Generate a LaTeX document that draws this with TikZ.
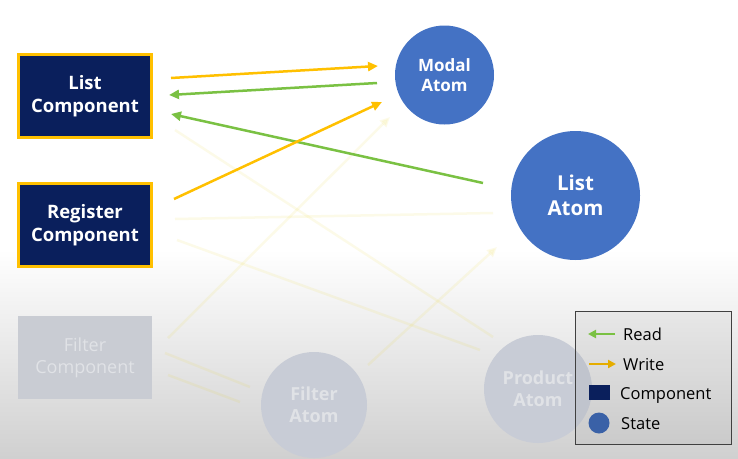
\documentclass[tikz,border=0pt]{standalone}
\usepackage{fontspec}
\setmainfont{Open Sans}
\usetikzlibrary{arrows.meta,calc}
\definecolor{navy}{HTML}{0A1F5C}
\definecolor{gold}{HTML}{FFC000}
\definecolor{ablue}{HTML}{4472C4}
\definecolor{rgreen}{HTML}{7AC143}
\definecolor{fadebox}{HTML}{C9CCD3}
\definecolor{fadecirc}{HTML}{C8CCD6}
\definecolor{fadetext}{HTML}{E0E2E6}
\definecolor{bgbot}{HTML}{D0D0D0}
\definecolor{legline}{HTML}{404040}
\definecolor{ghostcol}{HTML}{E8D000}
\tikzset{
  comp/.style={draw=gold, line width=3pt, fill=navy, text=white, align=center,
    minimum width=133pt, minimum height=83pt, inner sep=0pt,
    font=\bfseries\fontsize{18.5}{22.5}\selectfont},
  fadecomp/.style={fill=fadebox, text=fadetext, align=center,
    minimum width=134pt, minimum height=83pt, inner sep=0pt,
    font=\fontsize{18}{22}\selectfont},
  atom/.style={circle, fill=ablue, text=white, align=center, inner sep=0pt,
    font=\bfseries\fontsize{17}{20}\selectfont},
  fadeatom/.style={circle, fill=fadecirc, text=fadetext, align=center, inner sep=0pt,
    font=\bfseries\fontsize{18}{22}\selectfont},
  tip/.style={-{Triangle[length=10pt,width=9pt]}},
  writearrow/.style={tip, draw=gold, line width=2.5pt},
  readarrow/.style={tip, draw=rgreen, line width=2.5pt},
  ghost/.style={draw=ghostcol, line width=2.5pt, opacity=0.09},
  ghostarrow/.style={ghost, tip},
  legtext/.style={anchor=base west, inner sep=0pt, text=black, font=\fontsize{16.5}{20}\selectfont},
}
\begin{document}
\begin{tikzpicture}[x=1pt, y=-1pt]
\useasboundingbox (0,0) rectangle (738,458);
% background
\fill[white] (0,0) rectangle (738,250);
\shade[top color=white, bottom color=bgbot] (0,249.5) rectangle (738,458);

% ghost connectors
\coordinate (g1s) at (175,130); \coordinate (g1e) at (493,337);
\coordinate (g2s) at (175,219); \coordinate (g2e) at (493,213);
\coordinate (g3s) at (177,240); \coordinate (g3e) at (480,350);
\coordinate (g4s) at (168,338); \coordinate (g4e) at (390,117);
\coordinate (g5s) at (368,365); \coordinate (g5e) at (497,247);
\coordinate (g6s) at (165,353); \coordinate (g6e) at (250,387);
\coordinate (g7s) at (168,375); \coordinate (g7e) at (240,402);
\draw[ghost] (g1s) -- (g1e);
\draw[ghost] (g2s) -- (g2e);
\draw[ghost] (g3s) -- (g3e);
\draw[ghostarrow] (g4s) -- (g4e);
\draw[ghostarrow] (g5s) -- (g5e);
\draw[ghost] (g6s) -- (g6e);
\draw[ghost] (g7s) -- (g7e);

% faded nodes
\node[fadecomp] (fc) at (85,357.5) {Filter\\Component};
\node[fadeatom, minimum size=106pt] (fa) at (314,405) {Filter\\Atom};
\node[fadeatom, minimum size=108pt] (pa) at (538,389) {Product\\Atom};

% main nodes
\node[comp] (lc) at (85,96) {List\\Component};
\node[comp] (rc) at (85,225) {Register\\Component};
\node[atom, minimum size=99pt] (ma) at (444.5,75) {Modal\\Atom};
\node[atom, minimum size=129pt, font=\bfseries\fontsize{20.5}{25}\selectfont] (la) at (575.5,195.5) {List\\Atom};

% connectors
\coordinate (w1s) at (171,78);  \coordinate (w1e) at (378,66);
\coordinate (r1s) at (377,83);  \coordinate (r1e) at (169,95);
\coordinate (r2s) at (483,183); \coordinate (r2e) at (171,114);
\coordinate (w2s) at (174,199); \coordinate (w2e) at (382,102);
\draw[writearrow] (w1s) -- (w1e);
\draw[readarrow] (r1s) -- (r1e);
\draw[readarrow] (r2s) -- (r2e);
\draw[writearrow] (w2s) -- (w2e);

% legend
\node[draw=legline, line width=1pt, fill=black, fill opacity=0.04, draw opacity=1,
  minimum width=156pt, minimum height=133pt, inner sep=0pt] (leg) at (653,377.5) {};
\coordinate (lr1) at (615,334); \coordinate (lr2) at (588,334);
\coordinate (lw1) at (589,364); \coordinate (lw2) at (616,364);
\draw[draw=rgreen, line width=2.5pt, -{Triangle[length=8pt,width=8pt]}] (lr1) -- (lr2);
\draw[draw=gold!90!black, line width=2.5pt, -{Triangle[length=8pt,width=8pt]}] (lw1) -- (lw2);
\node[fill=navy, minimum width=21pt, minimum height=15pt, inner sep=0pt] (lsq) at (599.5,392.5) {};
\node[circle, fill=ablue!85!black, minimum size=21pt, inner sep=0pt] (lci) at (599,423) {};
\node[legtext] (t1) at (623,340) {Read};
\node[legtext] (t2) at (623,370) {Write};
\node[legtext] (t3) at (620,399) {Component};
\node[legtext] (t4) at (621,429) {State};
\end{tikzpicture}
\end{document}
